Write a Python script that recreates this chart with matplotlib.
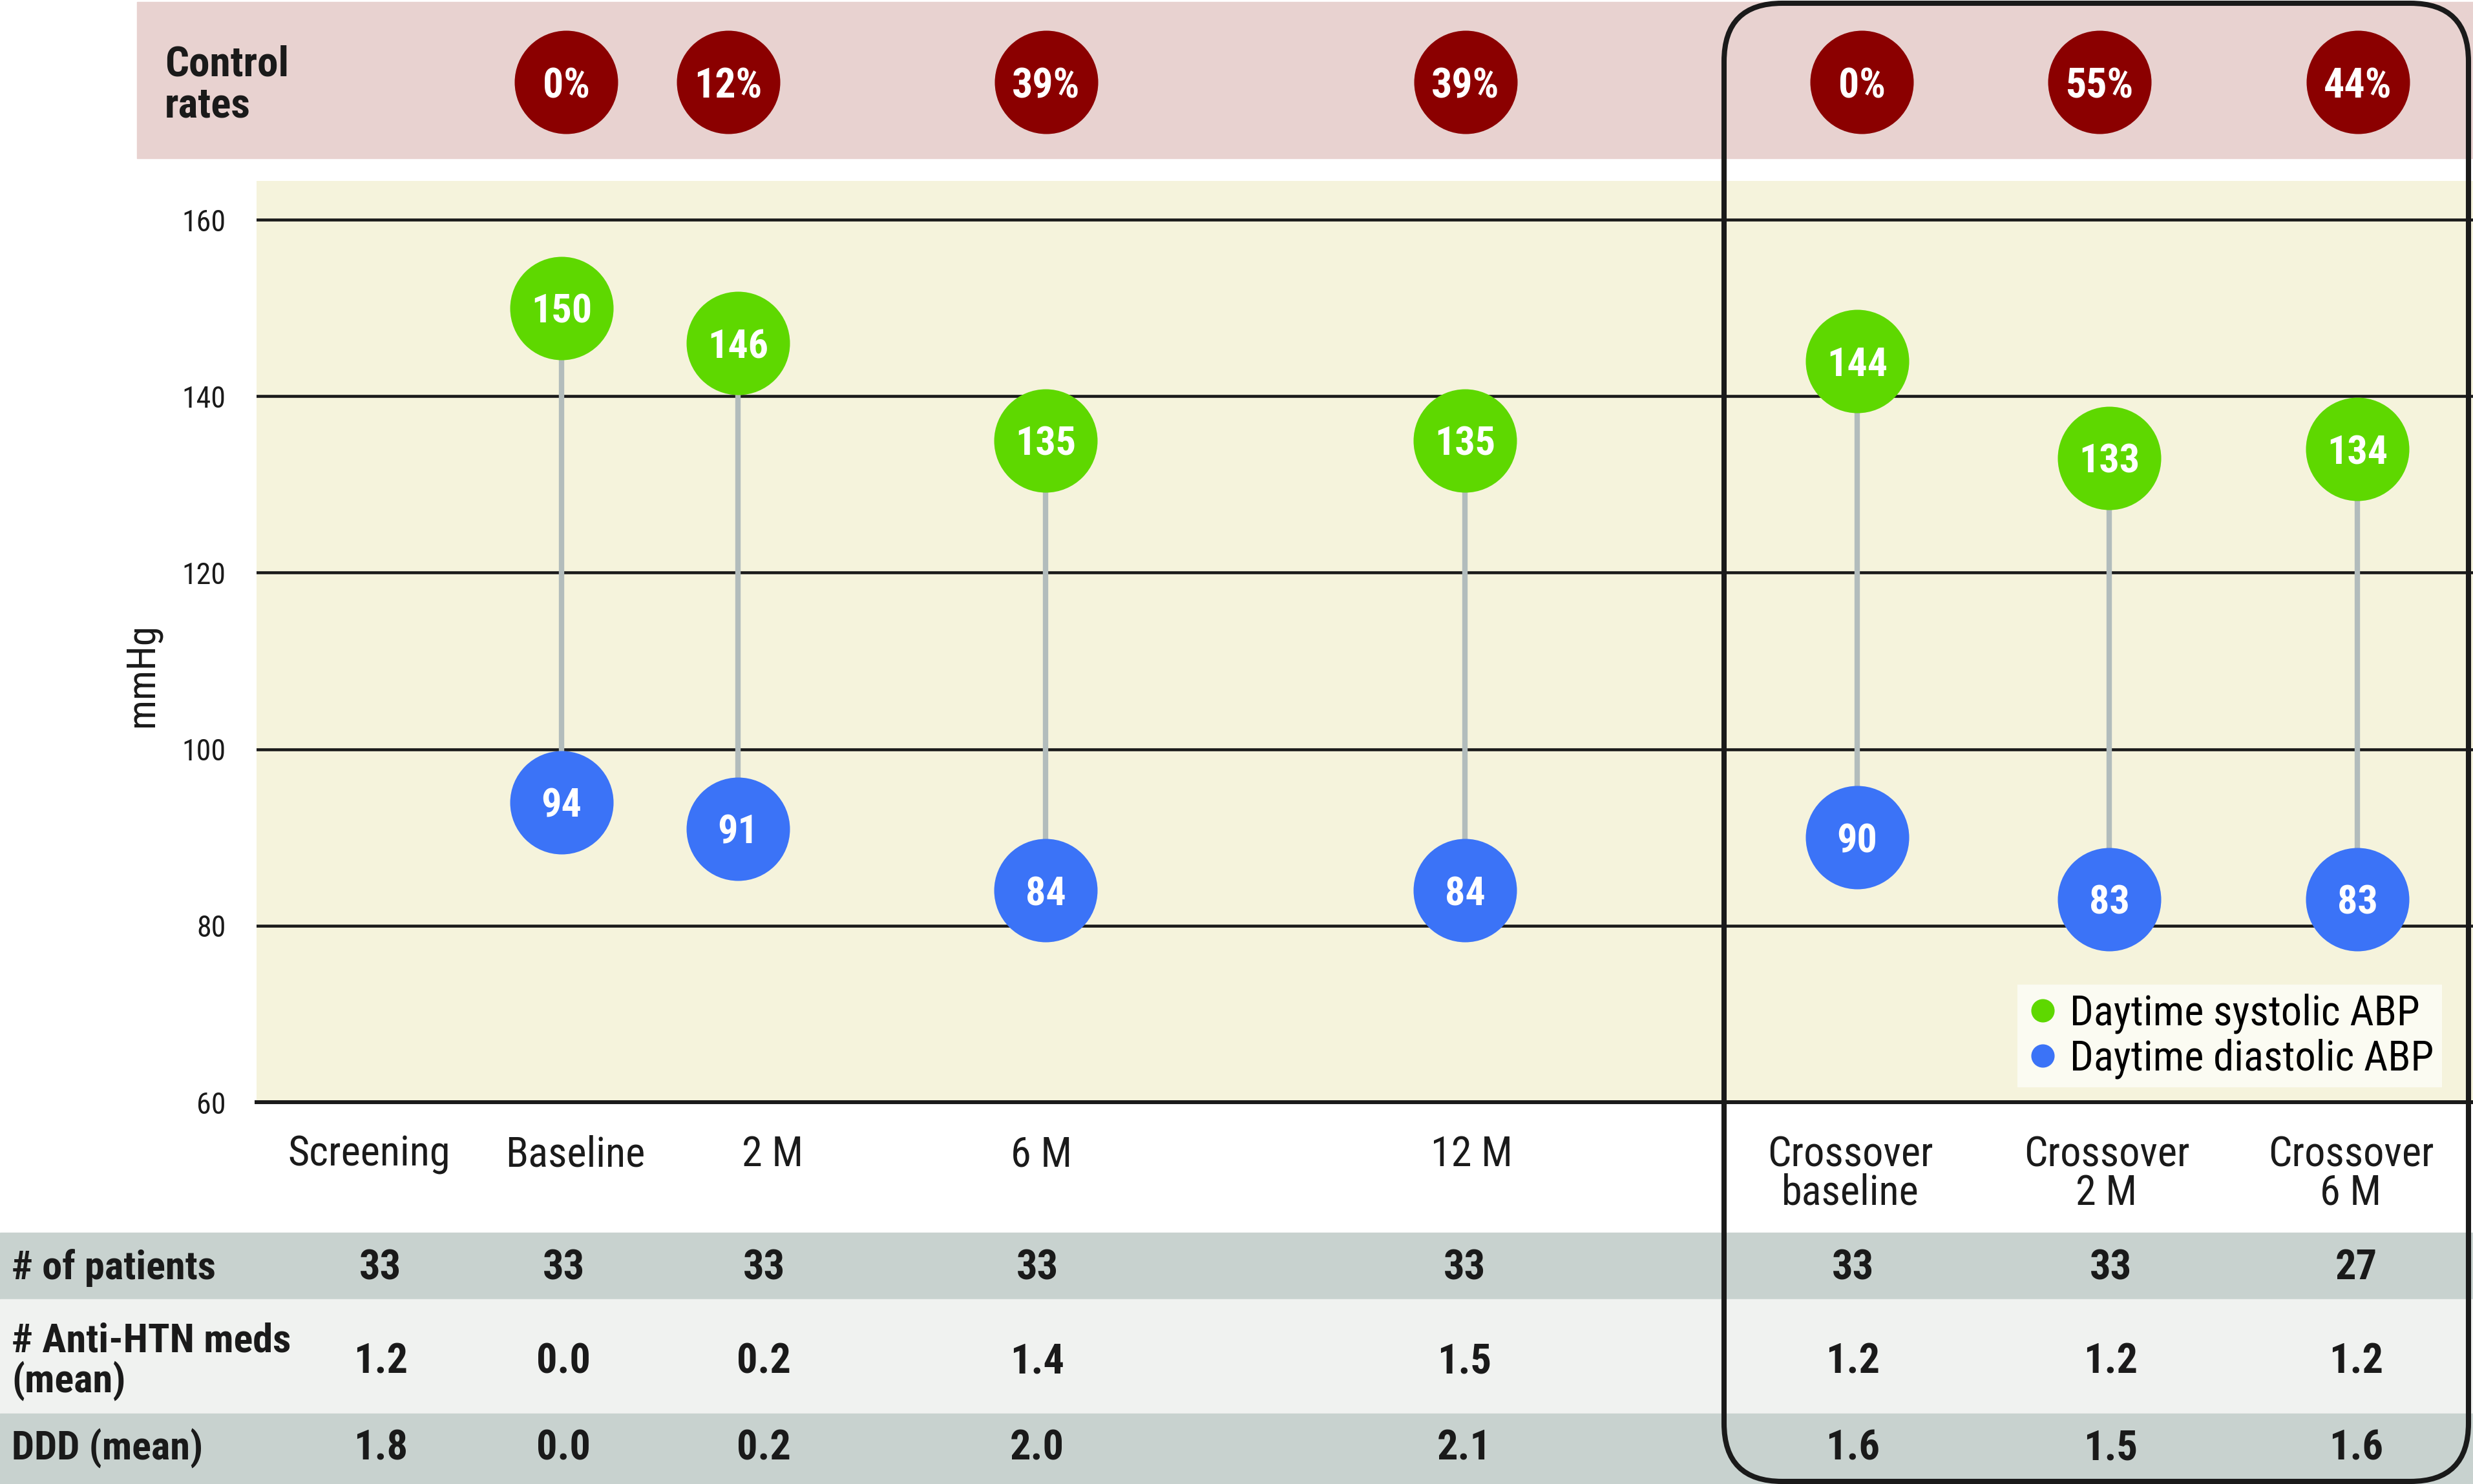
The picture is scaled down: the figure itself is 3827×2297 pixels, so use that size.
import matplotlib
matplotlib.use("Agg")
import matplotlib.pyplot as plt
import matplotlib.transforms as mtransforms
from matplotlib import font_manager as fm
from matplotlib.patches import Rectangle, FancyBboxPatch
from matplotlib.lines import Line2D

W, H = 3827, 2297


def pick_family(cands):
    for c in cands:
        try:
            fm.findfont(fm.FontProperties(family=c), fallback_to_default=False)
            return c
        except ValueError:
            pass
    return 'DejaVu Sans'


FAMILY = pick_family(['Roboto Condensed', 'Liberation Sans Narrow',
                      'Noto Sans Condensed', 'Noto Sans SemiCondensed',
                      'Roboto', 'Liberation Sans'])
plt.rcParams['font.family'] = [FAMILY, 'DejaVu Sans']

# data
timepoints = ["Screening", "Baseline", "2 M", "6 M", "12 M",
              "Crossover\nbaseline", "Crossover\n2 M", "Crossover\n6 M"]
systolic = [150, 146, 135, 135, 144, 133, 134]
diastolic = [94, 91, 84, 84, 90, 83, 83]
control_rates = [0, 12, 39, 39, 0, 55, 44]
row_labels = ["# of patients", "# Anti-HTN meds\n(mean)", "DDD (mean)"]
n_patients = [33, 33, 33, 33, 33, 33, 33, 27]
anti_htn_meds = [1.2, 0.0, 0.2, 1.4, 1.5, 1.2, 1.2, 1.2]
ddd = [1.8, 0.0, 0.2, 2.0, 2.1, 1.6, 1.5, 1.6]

# layout (pixel positions across the figure)
dot_x = [869, 1142, 1618, 2267, 2874, 3264, 3648]
rate_x = [876, 1127, 1619, 2268, 2881, 3249, 3649]
label_x = [571, 890, 1196, 1612, 2277, 2863, 3260, 3638]
table_x = [589, 872, 1182, 1605, 2266, 2867, 3266, 3646]

GREEN = '#5ed800'
BLUE = '#3b73f7'
DARKRED = '#8b0000'
INK = '#1a1a1a'


def fy(py):
    return 1 - py / H


fig = plt.figure(figsize=(W / 100, H / 100), dpi=100)
renderer = fig.canvas.get_renderer()


def fit(text, width_px, size, weight='normal'):
    # shrink a font size so the text is no wider than in the reference
    t = fig.text(0, 0, text, fontsize=size, fontweight=weight)
    w = t.get_window_extent(renderer=renderer).width
    t.remove()
    return size * min(1.0, width_px / w)


fs_dot = fit("150", 94, 46, 'bold')
fs_rate = fit("55%", 112, 46, 'bold')
fs_ctrl = fit("Control", 192, 60, 'bold')
fs_tick = fit("160", 68, 40)
fs_xlab = fit("Screening", 252, 60)
fs_rowlab = fit("# Anti-HTN meds", 432, 70, 'bold')
fs_value = fit("1.2", 84, 60, 'bold')
fs_leg = fit("Daytime diastolic ABP", 563, 60)
fs_ylab = fit("mmHg", 160, 50)

ax = fig.add_axes([397 / W, fy(1706), (W - 397) / W, (1706 - 280) / H])
ax.set_facecolor('#f5f3dc')
ax.set_xlim(397, W)
ax.set_ylim(60, 164.4)
blend = mtransforms.blended_transform_factory(ax.transData, fig.transFigure)

# background bands
fig.patches.append(Rectangle((212 / W, fy(245)), 1 - 212 / W, (245 - 3) / H,
                             transform=fig.transFigure, color='#e8d2d0', zorder=-2))
rows = [(1908, 2011, '#c8d2cf'), (2011, 2188, '#f0f2f0'), (2188, H, '#c8d2cf')]
for top, bot, c in rows:
    fig.patches.append(Rectangle((0, fy(bot)), 1, (bot - top) / H,
                                 transform=fig.transFigure, color=c, zorder=-2))

# axis styling
ax.set_yticks([60, 80, 100, 120, 140, 160])
ax.set_xticks([])
ax.tick_params(axis='y', length=0, pad=34, labelsize=fs_tick, labelcolor=INK)
ax.yaxis.grid(True, color=INK, lw=3.3)
ax.set_axisbelow(True)
for s in ['top', 'right', 'left']:
    ax.spines[s].set_visible(False)
ax.spines['bottom'].set_color(INK)
ax.spines['bottom'].set_linewidth(4.3)
fig.text(220 / W, fy(1045), 'mmHg', rotation=90, ha='center', va='center',
         fontsize=fs_ylab, color=INK)

# stems and dots
ax.vlines(dot_x, diastolic, systolic, color='#b2bcbc', lw=6, zorder=2)
ax.scatter(dot_x, systolic, s=13271, color=GREEN, lw=0, zorder=3)
ax.scatter(dot_x, diastolic, s=13271, color=BLUE, lw=0, zorder=3)
for x, v in zip(dot_x, systolic):
    ax.text(x, v, str(v), ha='center', va='center_baseline', color='white',
            fontsize=fs_dot, fontweight='bold', zorder=4)
for x, v in zip(dot_x, diastolic):
    ax.text(x, v, str(v), ha='center', va='center_baseline', color='white',
            fontsize=fs_dot, fontweight='bold', zorder=4)

# control rates row
ax.scatter(rate_x, [fy(127)] * len(rate_x), s=13271, color=DARKRED, lw=0,
           transform=blend, clip_on=False, zorder=3)
for x, r in zip(rate_x, control_rates):
    ax.text(x, fy(127), f"{r}%", transform=blend, ha='center',
            va='center_baseline', color='white', fontsize=fs_rate,
            fontweight='bold', clip_on=False)
fig.text(255 / W, fy(132), "Control\nrates", ha='left', va='center',
         fontsize=fs_ctrl, fontweight='bold', color=INK, linespacing=1.05)

# x labels
for x, lab in zip(label_x, timepoints):
    ax.text(x, fy(1756), lab, transform=blend, ha='center', va='top',
            fontsize=fs_xlab, color=INK, linespacing=0.95, clip_on=False)

# table
row_y = [1963, 2108, 2242]
for y, lab in zip(row_y, row_labels):
    fig.text(18 / W, fy(y), lab, ha='left', va='center', fontsize=fs_rowlab,
             fontweight='bold', color=INK, linespacing=1.05)
for y, vals, fmt in zip(row_y, [n_patients, anti_htn_meds, ddd],
                        ["{:d}", "{:.1f}", "{:.1f}"]):
    for x, v in zip(table_x, vals):
        ax.text(x, fy(y), fmt.format(v), transform=blend, ha='center',
                va='center', fontsize=fs_value, fontweight='bold', color=INK,
                clip_on=False)

# legend
handles = [Line2D([], [], marker='o', ls='', color=GREEN, markersize=25,
                  label='Daytime systolic ABP'),
           Line2D([], [], marker='o', ls='', color=BLUE, markersize=25,
                  label='Daytime diastolic ABP')]
leg = ax.legend(handles=handles, loc='lower right',
                bbox_to_anchor=(3779 / W, fy(1683)),
                bbox_transform=fig.transFigure, frameon=True, fancybox=False,
                fontsize=fs_leg, handletextpad=0.25, handlelength=0.8,
                borderpad=0.2, labelspacing=0.12, borderaxespad=0)
leg.get_frame().set_facecolor('#fbfbf2')
leg.get_frame().set_edgecolor('none')
leg.get_frame().set_alpha(1)
leg.set_zorder(6)

# crossover frame
frame = FancyBboxPatch((2668 / 100, (H - 2293) / 100), (3820 - 2668) / 100,
                       (2293 - 5) / 100, boxstyle="round,pad=0,rounding_size=0.9",
                       transform=fig.dpi_scale_trans, facecolor='none',
                       edgecolor=INK, lw=5.8, zorder=10)
fig.patches.append(frame)

fig.savefig("out.png", dpi=100)
